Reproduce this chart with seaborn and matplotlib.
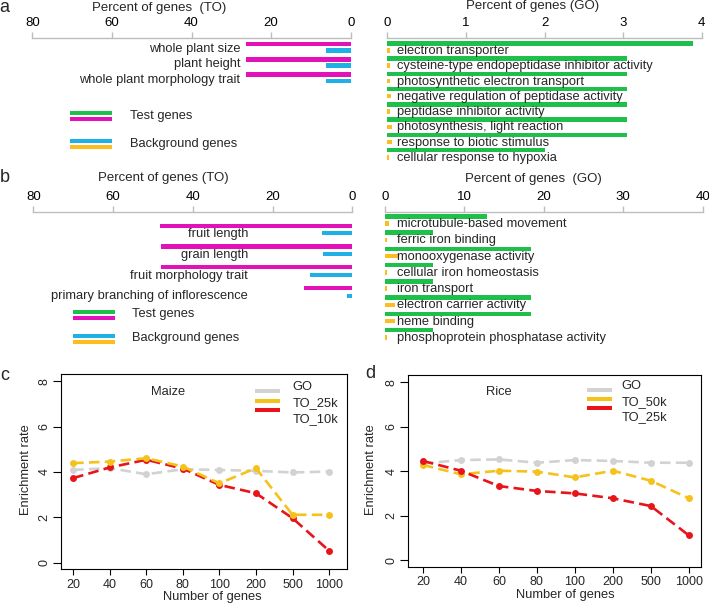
import numpy as np
import pandas as pd
import matplotlib
matplotlib.use("Agg")
import matplotlib.pyplot as plt
from matplotlib.lines import Line2D
import seaborn as sns

# ---------------- data ----------------
to_a_terms = ["whole plant size", "plant height", "whole plant morphology trait"]
to_a_test = [26.3, 26.3, 26.3]
to_a_background = [6.2, 6.2, 6.2]

go_a_terms = ["electron transporter",
              "cysteine-type endopeptidase inhibitor activity",
              "photosynthetic electron transport",
              "negative regulation of peptidase activity",
              "peptidase inhibitor activity",
              "photosynthesis, light reaction",
              "response to biotic stimulus",
              "cellular response to hypoxia"]
go_a_test = [3.89, 3.05, 3.05, 3.05, 3.05, 3.05, 3.05, 2.0]
go_a_background = [0.04, 0.04, 0.04, 0.05, 0.04, 0.06, 0.06, 0.02]

to_b_terms = ["fruit length", "grain length", "fruit morphology trait",
              "primary branching of inflorescence"]
to_b_test = [48.2, 48.0, 48.0, 12.0]
to_b_background = [7.5, 7.3, 10.7, 1.3]

go_b_terms = ["microtubule-based movement", "ferric iron binding",
              "monooxygenase activity", "cellular iron homeostasis",
              "iron transport", "electron carrier activity", "heme binding",
              "phosphoprotein phosphatase activity"]
go_b_test = [12.8, 6.0, 18.4, 6.0, 6.1, 18.4, 18.4, 6.0]
go_b_background = [0.5, 0.2, 1.8, 0.2, 0.2, 1.2, 1.2, 0.2]

gene_numbers = ["20", "40", "60", "80", "100", "200", "500", "1000"]
maize_go = [4.09, 4.17, 3.90, 4.12, 4.09, 4.05, 3.98, 4.02]
maize_to_25k = [4.39, 4.46, 4.61, 4.24, 3.50, 4.17, 2.11, 2.11]
maize_to_10k = [3.73, 4.20, 4.54, 4.15, 3.43, 3.06, 1.96, 0.52]
rice_go = [4.35, 4.50, 4.53, 4.38, 4.50, 4.46, 4.38, 4.38]
rice_to_50k = [4.28, 3.86, 4.02, 3.98, 3.72, 4.02, 3.57, 2.78]
rice_to_25k = [4.46, 4.02, 3.33, 3.11, 3.00, 2.78, 2.43, 1.11]

# ---------------- style ----------------
GREEN = "#1fbf4c"
MAGENTA = "#e311b8"
CYAN = "#1fb0e6"
YELLOW = "#fdbd1e"
L_GRAY = "#d2d2d2"
L_YELLOW = "#f5c21b"
L_RED = "#e8141b"

sns.set_style("white")
plt.rcParams["font.family"] = ["Liberation Sans", "DejaVu Sans"]

W, H = 709, 609
fig = plt.figure(figsize=(W / 100, H / 100), dpi=100)


def rect(x0, y0, x1, y1):
    return [x0 / W, 1 - y1 / H, (x1 - x0) / W, (y1 - y0) / H]


def ftext(x, y, s, **kw):
    kw.setdefault("va", "center")
    fig.text(x / W, 1 - y / H, s, **kw)


def fline(x0, x1, y, color, lw=2.9):
    fig.add_artist(Line2D([x0 / W, x1 / W], [1 - y / H, 1 - y / H],
                          transform=fig.transFigure, color=color, lw=lw,
                          solid_capstyle="butt"))


def bar_panel(box, xmax, inverted, terms, test, bg, colors, c0, spacing,
              width, gap, ticks, label_x, label_dy, label_ha):
    x0, y0, x1, y1 = box
    ax = fig.add_axes(rect(x0, y0, x1, y1))
    n = len(terms)
    df = pd.DataFrame({"term": list(terms) * 2,
                       "value": list(test) + list(bg),
                       "set": ["Test"] * n + ["Background"] * n})
    sns.barplot(data=df, x="value", y="term", hue="set", order=terms,
                hue_order=["Test", "Background"], palette=colors,
                orient="h", width=width, gap=gap, errorbar=None,
                linewidth=0, saturation=1, legend=False, ax=ax)
    ax.set_ylim((y1 - c0) / spacing, (y0 - c0) / spacing)
    ax.set_xlim((xmax, 0) if inverted else (0, xmax))
    ax.set_xticks(ticks)
    ax.set_xticklabels([str(t) for t in ticks])
    ax.set_yticks([])
    ax.set_xlabel("")
    ax.set_ylabel("")
    for s in ["left", "right", "bottom"]:
        ax.spines[s].set_visible(False)
    ax.spines["top"].set_visible(True)
    ax.spines["top"].set_color("#bdbdbd")
    ax.spines["top"].set_linewidth(1.0)
    ax.tick_params(axis="x", top=True, labeltop=True, bottom=False,
                   labelbottom=False, color="#bdbdbd", labelcolor="black",
                   length=4, width=1.0, pad=2.5, labelsize=9.5,
                   direction="out")
    ax.patch.set_alpha(0)
    for i, t in enumerate(terms):
        ax.text(label_x, i + label_dy, t, ha=label_ha, va="center",
                fontsize=9.3, clip_on=False)
    return ax


# ---------------- panel a ----------------
bar_panel((32.3, 38.3, 350.7, 90), 80, True, to_a_terms, to_a_test,
          to_a_background, [MAGENTA, CYAN], c0=47.2, spacing=15.3,
          width=0.82, gap=0.31, ticks=[80, 60, 40, 20, 0],
          label_x=27.8, label_dy=0.12, label_ha="right")
ftext(158.7, 7.5, "Percent of genes  (TO)", ha="center", fontsize=9.5)

bar_panel((387.3, 38.3, 701.7, 165), 4, False, go_a_terms, go_a_test,
          go_a_background, [GREEN, YELLOW], c0=46.9, spacing=15.26,
          width=0.93, gap=0.37, ticks=[0, 1, 2, 3, 4],
          label_x=0.125, label_dy=0.27, label_ha="left")
ftext(533, 6.5, "Percent of genes (GO)", ha="center", fontsize=9.5)

# legend a
fline(70, 112, 112.7, GREEN)
fline(70, 112, 119.3, MAGENTA)
fline(70, 112, 140.7, CYAN)
fline(70, 112, 147.3, YELLOW)
ftext(130, 115.7, "Test genes", fontsize=9.3)
ftext(130, 143.5, "Background genes", fontsize=9.3)

# ---------------- panel b ----------------
bar_panel((33.3, 211.7, 352.3, 305), 80, True, to_b_terms, to_b_test,
          to_b_background, [MAGENTA, CYAN], c0=229.5, spacing=20.8,
          width=0.72, gap=0.43, ticks=[80, 60, 40, 20, 0],
          label_x=26.1, label_dy=0.22, label_ha="right")
ftext(163, 178.5, "Percent of genes (TO)", ha="center", fontsize=9.5)

bar_panel((385, 211.7, 702.7, 348), 40, False, go_b_terms, go_b_test,
          go_b_background, [GREEN, YELLOW], c0=220, spacing=16.25,
          width=0.90, gap=0.38, ticks=[0, 10, 20, 30, 40],
          label_x=1.5, label_dy=0.25, label_ha="left")
ftext(533.7, 179.5, "Percent of genes  (GO)", ha="center", fontsize=9.5)

# legend b
fline(73, 115, 312, GREEN)
fline(73, 115, 318, MAGENTA)
fline(73, 115, 335.5, CYAN)
fline(73, 115, 341.5, YELLOW)
ftext(131.7, 314.5, "Test genes", fontsize=9.3)
ftext(131.7, 338, "Background genes", fontsize=9.3)


# ---------------- line panels ----------------
def line_panel(box, xlim, series, colors, order, title, title_xy):
    x0, y0, x1, y1 = box
    ax = fig.add_axes(rect(x0, y0, x1, y1))
    pos = np.arange(1, len(gene_numbers) + 1)
    for k in order:
        sns.lineplot(x=pos, y=series[k], ax=ax, color=colors[k],
                     linewidth=1.9, linestyle=(0, (4, 2)), marker="o",
                     markersize=5, markeredgewidth=0,
                     markeredgecolor=colors[k], zorder=3 + order.index(k))
    ax.set_xlim(*xlim)
    ax.set_ylim(-0.3, 8.33)
    ax.set_xticks(pos)
    ax.set_xticklabels(gene_numbers)
    ax.set_yticks([0, 2, 4, 6, 8])
    ax.set_yticklabels(["0", "2", "4", "6", "8"])
    for s in ax.spines.values():
        s.set_visible(True)
        s.set_color("black")
        s.set_linewidth(0.8)
    ax.tick_params(axis="x", bottom=True, length=4.5, width=0.8, pad=2.5,
                   labelsize=9, color="black")
    ax.tick_params(axis="y", left=True, length=6, width=0.8, pad=1.5,
                   labelsize=9, labelrotation=90, color="black")
    for lbl in ax.get_yticklabels():
        lbl.set_va("center")
    ax.set_xlabel("")
    ax.set_ylabel("")
    ax.text(title_xy[0], title_xy[1], title, transform=ax.transData,
            ha="center", va="center", fontsize=9.3)
    return ax


line_panel((60.7, 374, 347, 569.3), (0.66, 8.49),
           [maize_go, maize_to_25k, maize_to_10k],
           [L_GRAY, L_YELLOW, L_RED], [0, 2, 1], "Maize", (3.6, 7.55))
line_panel((407.7, 375, 701, 566.7), (0.6, 8.32),
           [rice_go, rice_to_50k, rice_to_25k],
           [L_GRAY, L_YELLOW, L_RED], [0, 1, 2], "Rice", (3.0, 7.55))

# legends c / d
for (lx0, lx1, tx, ly, ty, labels) in [
        (255, 280, 292.7, [390.7, 401, 410], [386.5, 403.3, 419],
         ["GO", "TO_25k", "TO_10k"]),
        (587, 612, 621.7, [390, 399.3, 407.7], [386, 402.3, 416.7],
         ["GO", "TO_50k", "TO_25k"])]:
    for c, yy in zip([L_GRAY, L_YELLOW, L_RED], ly):
        fline(lx0, lx1, yy, c)
    for s, yy in zip(labels, ty):
        ftext(tx, yy, s, fontsize=9.3)

# axis labels
ftext(26, 470, "Enrichment rate", rotation=90, ha="center", fontsize=9.3)
ftext(371.5, 470, "Enrichment rate", rotation=90, ha="center", fontsize=9.3)
ftext(212, 597, "Number of genes", ha="center", fontsize=9.3)
ftext(565, 595, "Number of genes", ha="center", fontsize=9.3)

# panel letters
ftext(4, 7, "a", ha="center", fontsize=13)
ftext(5, 178, "b", ha="center", fontsize=13)
ftext(5, 376, "c", ha="center", fontsize=13)
ftext(370, 374, "d", ha="center", fontsize=13)

fig.savefig("out.png", dpi=100)
